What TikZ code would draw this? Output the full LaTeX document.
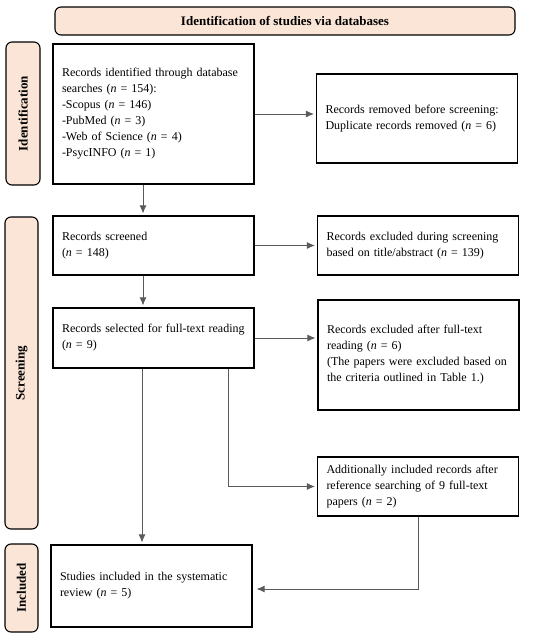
\documentclass[tikz,border=0pt]{standalone}
\usepackage{fontspec}
\setmainfont{Liberation Serif}
\usetikzlibrary{arrows,arrows.meta}

\definecolor{peach}{RGB}{251,229,214}
\definecolor{linkgray}{RGB}{90,90,90}

\tikzset{
  box/.style={draw, line width=1.1pt, align=left, inner xsep=9pt,
    text width=183pt, minimum height=#1, font=\fontsize{12}{16}\selectfont},
  phase/.style={draw, line width=1.1pt, fill=peach, rounded corners=6pt,
    font=\bfseries\fontsize{13}{16}\selectfont},
  link/.style={-{Latex[length=8pt,width=7pt]}, linkgray, line width=0.9pt, shorten >=2pt}
}

\begin{document}
\begin{tikzpicture}[x=1pt,y=-1pt]
\useasboundingbox (0,0) rectangle (550,637);

% header and phases
\node[phase, minimum width=460pt, minimum height=28pt] (head) at (285,21) {Identification of studies via databases};
\node[phase, rotate=90, minimum width=143pt, minimum height=34pt] (ident) at (23,113.5) {Identification};
\node[phase, rotate=90, minimum width=312pt, minimum height=33pt] (screen) at (21.5,373) {Screening};
\node[phase, rotate=90, minimum width=88pt, minimum height=33pt] (incl) at (21.5,588) {Included};

% left column
\node[box=140pt] (idrec) at (153.5,114) {Records identified through database\\ searches (\textit{n} = 154):\\ -Scopus (\textit{n} = 146)\\ -PubMed (\textit{n} = 3)\\ -Web of Science (\textit{n} = 4)\\ -PsycINFO (\textit{n} = 1)};
\node[box=59pt] (scr) at (153.5,245.5) {Records screened\\ (\textit{n} = 148)};
\node[box=60pt] (full) at (153.5,338) {Records selected for full-text reading\\ (\textit{n} = 9)};
\node[box=82pt] (study) at (151.5,586) {Studies included in the systematic\\ review (\textit{n} = 5)};

% right column
\node[box=89pt] (dup) at (417,118.5) {Records removed before screening:\\ Duplicate records removed (\textit{n} = 6)};
\node[box=59pt] (exscr) at (418,245.5) {Records excluded during screening\\ based on title/abstract (\textit{n} = 139)};
\node[box=110pt] (exfull) at (418.5,355) {Records excluded after full-text\\ reading (\textit{n} = 6)\\ (The papers were excluded based on\\ the criteria outlined in Table 1.)};
\node[box=59pt] (add) at (418,486.5) {Additionally included records after\\ reference searching of 9 full-text\\ papers (\textit{n} = 2)};

% arrows
\draw[link] (idrec.east) -- (idrec.east -| dup.west);
\draw[link] ([xshift=-10.5pt]idrec.south) -- ([xshift=-10.5pt]scr.north);
\draw[link] (scr.east) -- (exscr.west);
\draw[link] ([xshift=-10.5pt]scr.south) -- ([xshift=-10.5pt]full.north);
\draw[link] (full.east) -- (full.east -| exfull.west);
\draw[link] ([xshift=-11.5pt]full.south) -- ([xshift=-9.5pt]study.north);
\draw[link] ([xshift=74.5pt]full.south) |- (add.west);
\draw[link, shorten >=4pt] (add.south) |- ([yshift=-3pt]study.east);
\end{tikzpicture}
\end{document}
